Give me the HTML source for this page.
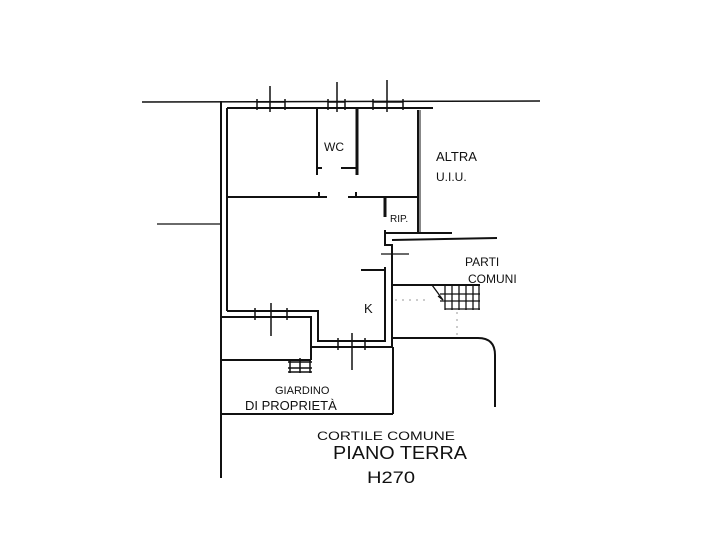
<!DOCTYPE html>
<html><head><meta charset="utf-8"><style>
html,body{margin:0;padding:0;background:#fff;}
svg{display:block;}
text{font-family:"Liberation Sans",sans-serif;fill:#111;}
</style></head><body>
<svg width="718" height="538" viewBox="0 0 718 538" xmlns="http://www.w3.org/2000/svg">
<g stroke="#111" fill="none" stroke-width="2">
<!-- top long line -->
<line x1="142" y1="102" x2="540" y2="101" stroke-width="1.5"/>
<!-- left outer and inner walls -->
<line x1="221" y1="101" x2="221" y2="478"/>
<line x1="227" y1="108" x2="227" y2="311"/>
<line x1="227" y1="108" x2="433" y2="108"/>
<!-- WC walls -->
<line x1="317" y1="108" x2="317" y2="175"/>
<line x1="357" y1="108" x2="357" y2="175" stroke-width="3"/>
<line x1="317" y1="168" x2="322" y2="168"/>
<line x1="341" y1="168" x2="357" y2="168"/>
<!-- right wall -->
<line x1="418" y1="110" x2="418" y2="233"/>
<line x1="420" y1="110" x2="420" y2="233" stroke-width="1"/>
<!-- horizontal mid wall -->
<line x1="227" y1="197" x2="327" y2="197"/>
<line x1="348" y1="197" x2="418" y2="197"/>
<line x1="319" y1="192" x2="319" y2="197"/>
<line x1="356" y1="192" x2="356" y2="197"/>
<!-- RIP -->
<line x1="385" y1="197" x2="385" y2="217" stroke-width="3"/>
<line x1="385" y1="233" x2="452" y2="233"/>
<polyline points="385,230 385,245 392,245"/>
<line x1="392" y1="240" x2="497" y2="238"/>
<line x1="381" y1="254" x2="409" y2="254" stroke-width="1.2"/>
<!-- K walls -->
<line x1="361" y1="270" x2="385" y2="270"/>
<polyline points="385,267 385,341 318,341 318,311 227,311"/>
<line x1="392" y1="244" x2="392" y2="347"/>
<polyline points="221,317 311,317 311,347 393,347"/>
<!-- garden -->
<line x1="393" y1="347" x2="393" y2="414"/>
<line x1="221" y1="414" x2="393" y2="414"/>
<line x1="221" y1="360" x2="311" y2="360"/>
<line x1="311" y1="347" x2="311" y2="360"/>
<!-- curve right -->
<path d="M393 338 L478 338 Q495 338 495 355 L495 407"/>
<line x1="392" y1="285" x2="480" y2="285"/>
<!-- left dash line -->
<line x1="157" y1="224" x2="220" y2="224" stroke-width="1.2"/>
</g>
<g stroke="#111" fill="none" stroke-width="1.5">
<!-- top windows -->
<line x1="257" y1="102" x2="285" y2="102"/><line x1="257" y1="108" x2="285" y2="108"/>
<line x1="257" y1="99" x2="257" y2="110"/><line x1="285" y1="99" x2="285" y2="110"/>
<line x1="270" y1="86" x2="270" y2="112"/>
<line x1="328" y1="102" x2="345" y2="102"/><line x1="328" y1="108" x2="345" y2="108"/>
<line x1="328" y1="99" x2="328" y2="110"/><line x1="345" y1="99" x2="345" y2="110"/>
<line x1="337" y1="82" x2="337" y2="112"/>
<line x1="373" y1="102" x2="403" y2="102"/><line x1="373" y1="108" x2="403" y2="108"/>
<line x1="373" y1="99" x2="373" y2="110"/><line x1="403" y1="99" x2="403" y2="110"/>
<line x1="387" y1="80" x2="387" y2="112"/>
<!-- bottom left window -->
<line x1="255" y1="311" x2="287" y2="311"/><line x1="255" y1="317" x2="287" y2="317"/>
<line x1="255" y1="308" x2="255" y2="320"/><line x1="287" y1="308" x2="287" y2="320"/>
<line x1="271" y1="303" x2="271" y2="336"/>
<!-- bottom window -->
<line x1="338" y1="341" x2="365" y2="341"/><line x1="338" y1="347" x2="365" y2="347"/>
<line x1="338" y1="338" x2="338" y2="350"/><line x1="365" y1="338" x2="365" y2="350"/>
<line x1="352" y1="333" x2="352" y2="370"/>
<!-- garden small window -->
<line x1="288" y1="362" x2="312" y2="362"/><line x1="288" y1="368" x2="312" y2="368"/><line x1="288" y1="372" x2="312" y2="372"/>
<line x1="290" y1="360" x2="290" y2="373"/><line x1="300" y1="358" x2="300" y2="373"/><line x1="310" y1="360" x2="310" y2="373"/>
<!-- stairs -->
<g stroke-width="1.3">
<line x1="445" y1="285" x2="445" y2="310"/><line x1="452" y1="285" x2="452" y2="310"/>
<line x1="459" y1="285" x2="459" y2="310"/><line x1="466" y1="285" x2="466" y2="310"/>
<line x1="473" y1="285" x2="473" y2="310"/><line x1="479" y1="285" x2="479" y2="310"/>
<line x1="440" y1="294" x2="480" y2="294"/><line x1="440" y1="301" x2="480" y2="301"/>
<line x1="445" y1="309" x2="480" y2="309"/>
<path d="M432 285 L443 300 L438 296"/>
</g>
</g>
<g stroke="#999" stroke-width="1" stroke-dasharray="2,5">
<line x1="457" y1="312" x2="457" y2="336"/>
<line x1="395" y1="300" x2="430" y2="300"/>
</g>
<text x="324" y="151" font-size="12">WC</text>
<text x="436" y="161" font-size="13">ALTRA</text>
<text x="436" y="181" font-size="12">U.I.U.</text>
<text x="390" y="222" font-size="10">RIP.</text>
<text x="465" y="266" font-size="12">PARTI</text>
<text x="468" y="283" font-size="12">COMUNI</text>
<text x="364" y="313" font-size="13">K</text>
<text x="275" y="394" font-size="11">GIARDINO</text>
<text x="245" y="410" font-size="13">DI PROPRIETÀ</text>
<text x="317" y="440" font-size="12" textLength="138" lengthAdjust="spacingAndGlyphs">CORTILE COMUNE</text>
<text x="333" y="459" font-size="18" textLength="134" lengthAdjust="spacingAndGlyphs">PIANO TERRA</text>
<text x="367" y="483" font-size="17" textLength="48" lengthAdjust="spacingAndGlyphs">H270</text>
</svg>
</body></html>
